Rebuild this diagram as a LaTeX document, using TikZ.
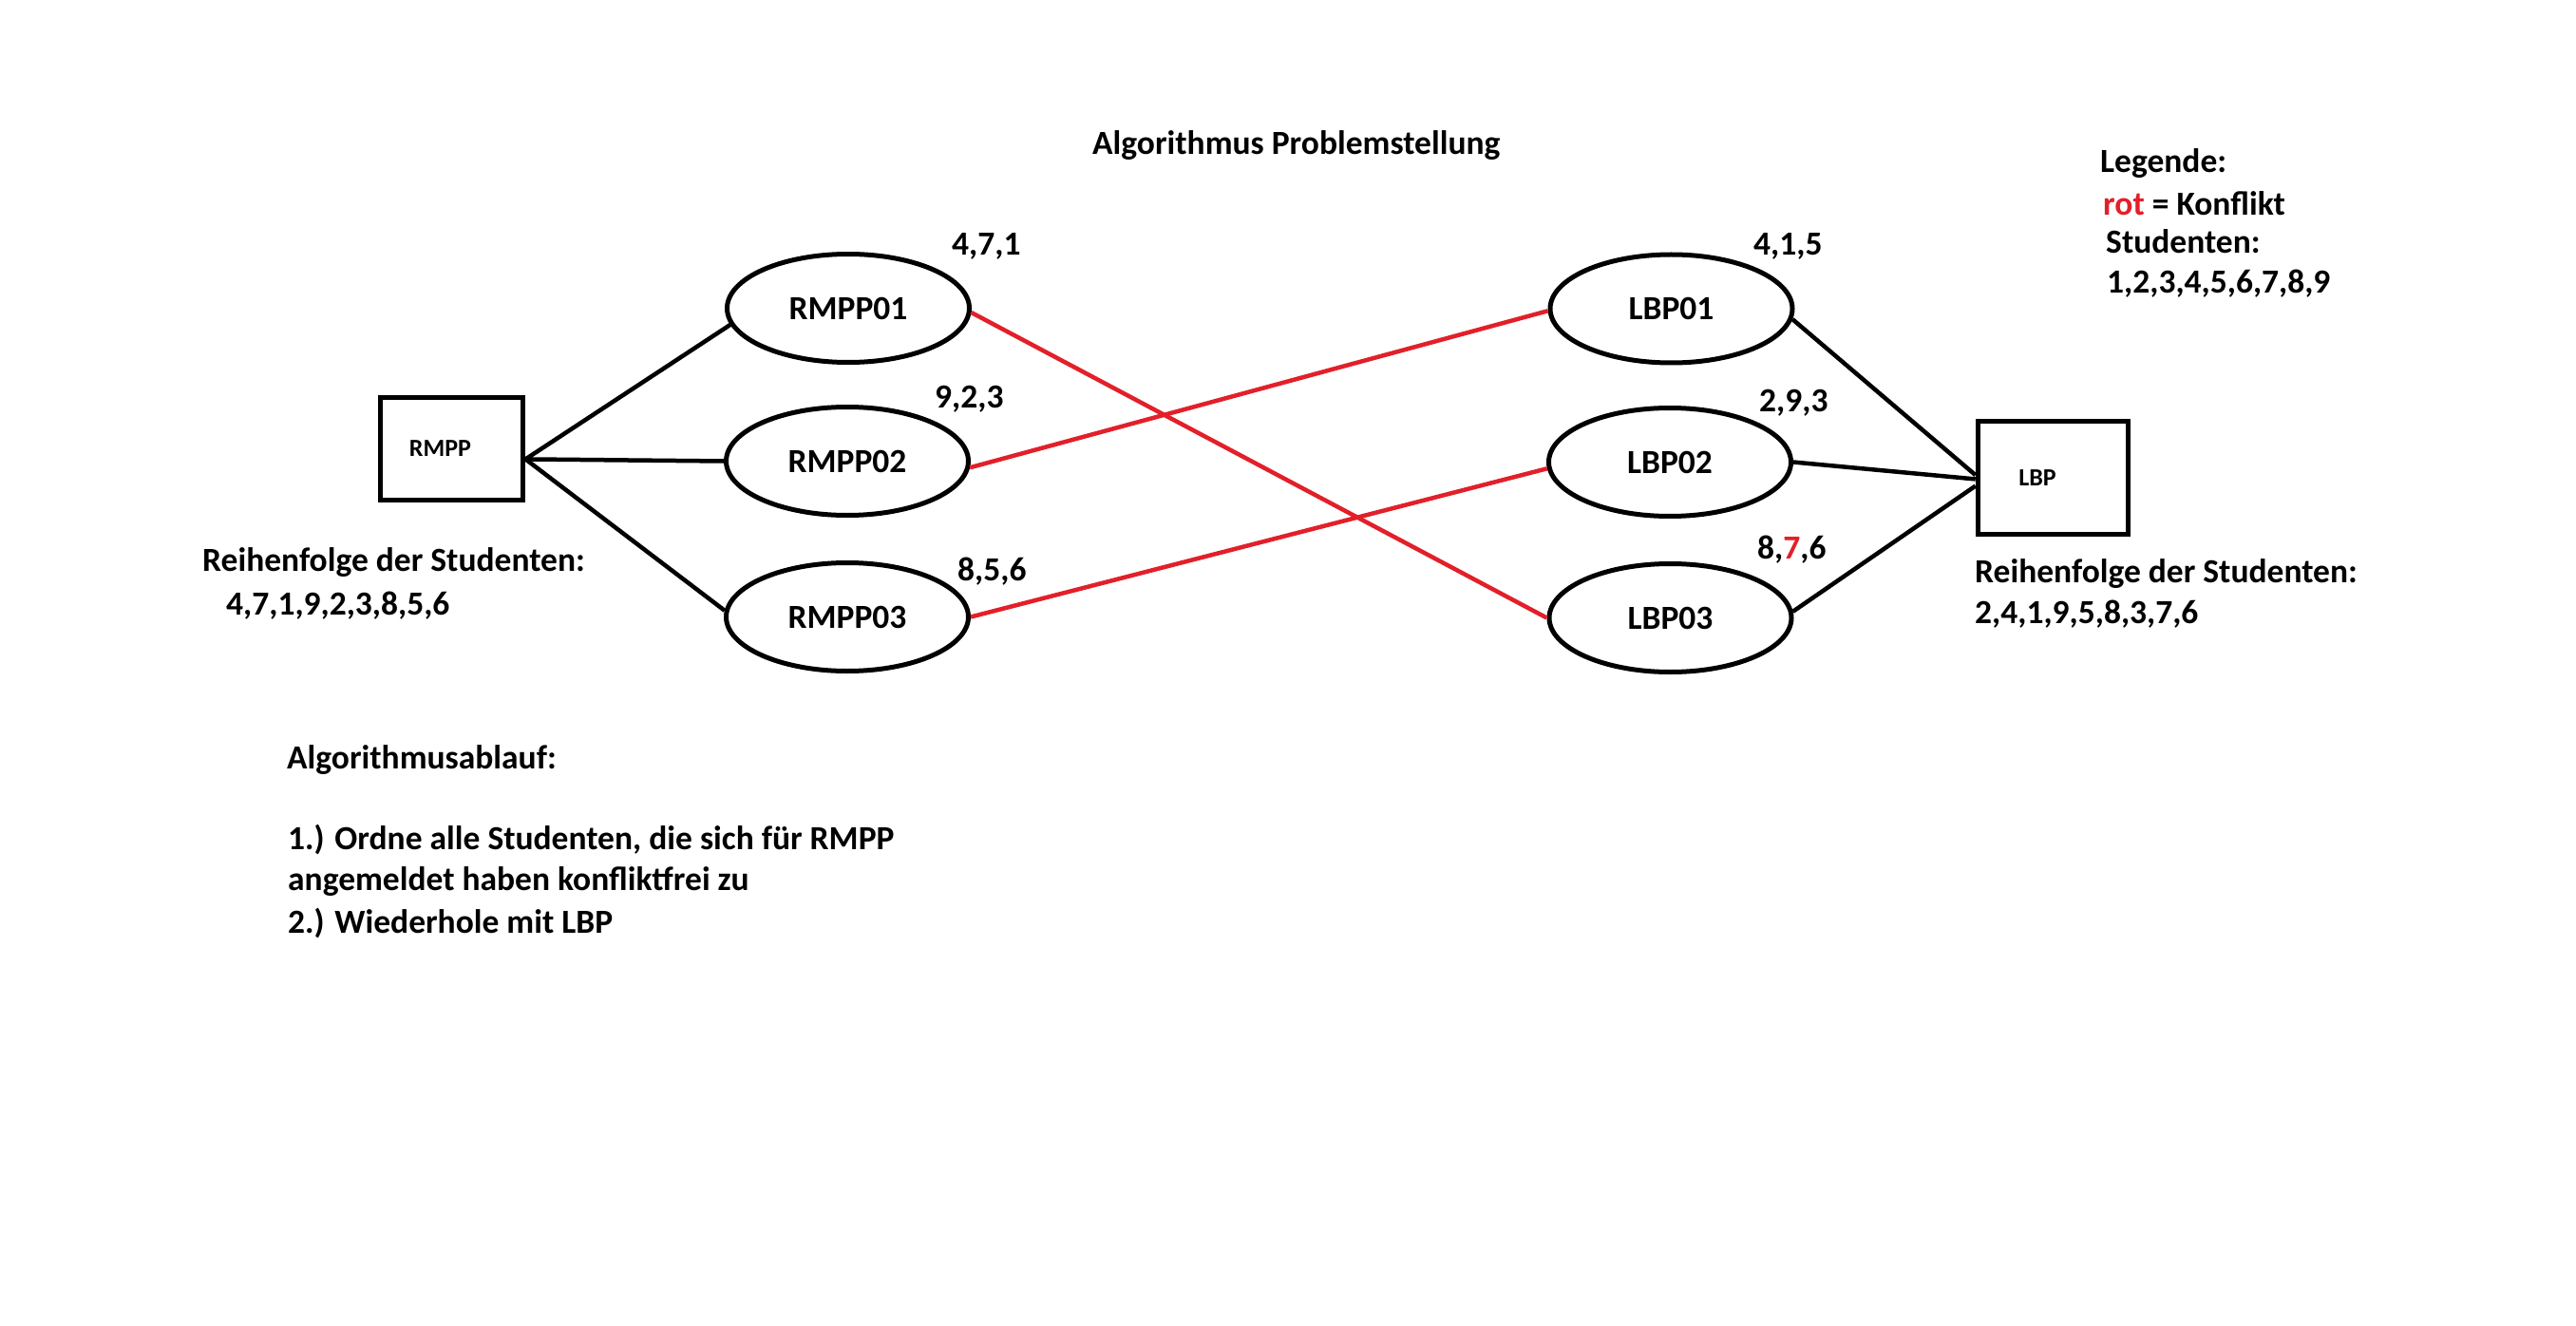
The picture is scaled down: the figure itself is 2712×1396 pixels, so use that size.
\documentclass[tikz,border=0pt]{standalone}
\usepackage{fontspec}
\setmainfont{Carlito}
\usetikzlibrary{shapes.geometric}
\definecolor{konflikt}{RGB}{226,32,42}
\newcommand{\bigfont}{\fontsize{35.5}{42}\selectfont\bfseries}
\newcommand{\boxfont}{\fontsize{26}{31}\selectfont\bfseries}
\begin{document}
\begin{tikzpicture}[x=1pt,y=-1pt,
  txt/.style={anchor=base west, inner sep=0pt, font=\bigfont},
  course/.style={ellipse, draw=black, line width=5pt, inner sep=0pt,
    minimum width=255pt, minimum height=114pt, font=\bigfont},
  stationbox/.style={rectangle, draw=black, line width=5.5pt, inner sep=0pt, font=\boxfont},
  conn/.style={draw=black, line width=4.5pt},
  conflict/.style={draw=konflikt, line width=4.5pt}]
\fill[white] (0,0) rectangle (2712,1396);
\useasboundingbox (0,0) rectangle (2712,1396);

% title
\node[txt] (title) at (1150,163) {Algorithmus Problemstellung};

% boxes
\node[stationbox, minimum width=150pt, minimum height=108pt] (rmpp) at (475.5,472.5) {\hspace*{-24pt}RMPP};
\node[stationbox, minimum width=158pt, minimum height=119pt] (lbp) at (2161.5,503) {\hspace*{-33pt}LBP};

% courses
\node[course] (r1) at (893,324.5) {RMPP01};
\node[course] (r2) at (892,485.5) {RMPP02};
\node[course] (r3) at (892,649.5) {RMPP03};
\node[course] (l1) at (1759.5,325) {LBP01};
\node[course] (l2) at (1758,486.5) {LBP02};
\node[course] (l3) at (1758.5,650.5) {LBP03};

% student labels
\node[txt] (n1) at (1002,269) {4,7,1};
\node[txt] (n2) at (984,429) {9,2,3};
\node[txt] (n3) at (1008,611) {8,5,6};
\node[txt] (m1) at (1846,269) {4,1,5};
\node[txt] (m2) at (1852,433) {2,9,3};
\node[txt] (m3) at (1850,588) {8,{\color{konflikt}7},6};

% connectors
\draw[conn] (rmpp.-8) -- (r1.188);
\draw[conn] (rmpp.-8) -- (r2.west);
\draw[conn] (rmpp.-8) -- (r3.177);
\draw[conflict] (r1.-2) -- (l3.west);
\draw[conflict] (r2.-3) -- (l1.181);
\draw[conflict] (r3.east) -- (l2.183);
\draw[conn] (l1.-5) -- (lbp.178);
\draw[conn] (l2.east) -- (lbp.181);
\draw[conn] (l3.3) -- (lbp.186);

% legend
\node[txt] (leg) at (2211,182) {Legende:};
\node[txt] (leg1) at (2214,227) {{\color{konflikt}rot} = Konflikt};
\node[txt] (leg2) at (2217,267) {Studenten:};
\node[txt] (leg3) at (2218,309) {1,2,3,4,5,6,7,8,9};

% orders
\node[txt] (ordl) at (213,601) {Reihenfolge der Studenten:};
\node[txt] (ordl2) at (238,647) {4,7,1,9,2,3,8,5,6};
\node[txt] (ordr) at (2079,613) {Reihenfolge der Studenten:};
\node[txt] (ordr2) at (2079,656) {2,4,1,9,5,8,3,7,6};

% algorithm
\node[txt] (alg) at (302,809) {Algorithmusablauf:};
\node[txt] (alg1) at (303,894) {1.) Ordne alle Studenten, die sich für RMPP};
\node[txt] (alg2) at (303,937) {angemeldet haben konfliktfrei zu};
\node[txt] (alg3) at (303,982) {2.) Wiederhole mit LBP};
\end{tikzpicture}
\end{document}
